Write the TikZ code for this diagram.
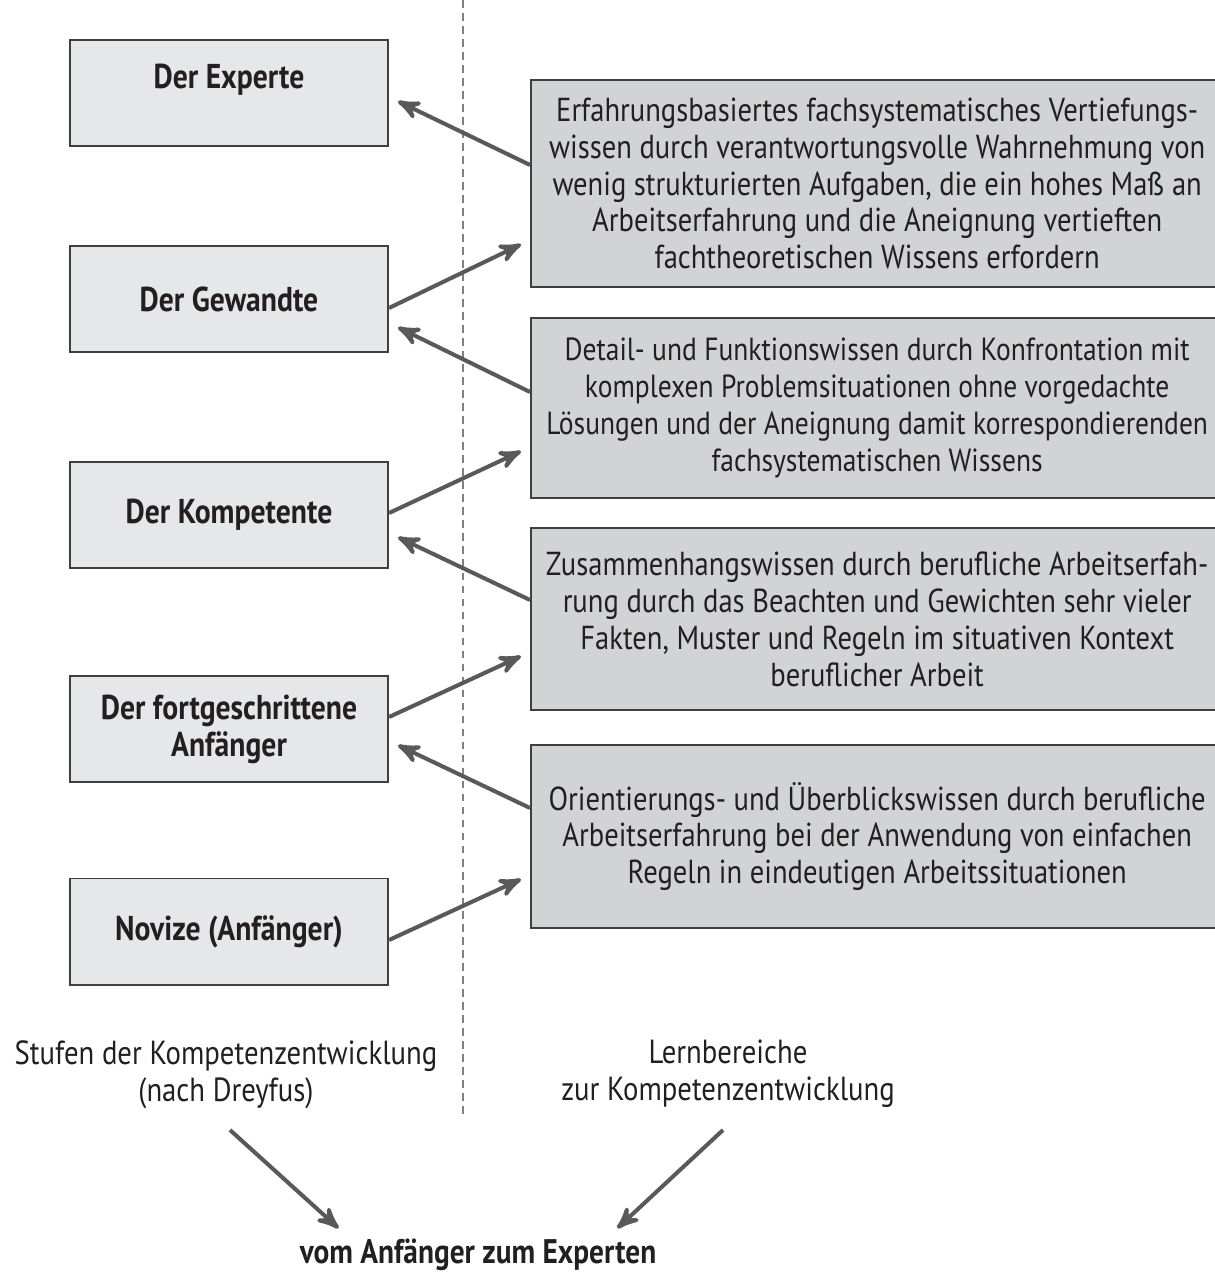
\documentclass[tikz,border=0pt]{standalone}
\usepackage{fontspec}
\setmainfont{PT Sans}[FakeStretch=0.86]
\usepackage{tikz}
\usetikzlibrary{arrows, positioning}
\definecolor{boxleft}{HTML}{E6E7E8}
\definecolor{boxright}{HTML}{D1D3D4}
\definecolor{rimgray}{HTML}{3F3F3F}
\definecolor{arrowgray}{HTML}{595959}
\definecolor{textdark}{HTML}{231F20}

\begin{document}
\begin{tikzpicture}[x=0.01cm, y=-0.01cm, >=stealth', font=\fontsize{9.45}{10.5}\selectfont,
                    text=textdark]
        \tikzstyle{stage}=[draw=rimgray, line width=0.55pt, fill=boxleft, minimum width=3.18cm,
                           minimum height=1.06cm, align=center, font=\fontsize{9.8}{10.5}\selectfont\bfseries]
        \tikzstyle{area}=[draw=rimgray, line width=0.55pt, fill=boxright, minimum width=6.92cm,
                          align=center, inner sep=0pt, anchor=west]
        \tikzstyle{arr}=[->, draw=arrowgray, line width=1.15pt, shorten >=0.1cm]

        \useasboundingbox (0,0) rectangle (1214,1277);

        % Stufen (links)
        \node[stage]         (exp)  at (229, 93)    {};
        \node[font=\fontsize{9.8}{10.5}\selectfont\bfseries] (explbl) at (229, 80) {Der Experte};
        \node[stage]         (gew)  at (229, 299)   {Der Gewandte};
        \node[stage]         (kom)  at (229, 515)   {Der Kompetente};
        \node[stage]         (fort) at (229, 729)   {Der fortgeschrittene\\Anfänger};
        \node[stage]         (nov)  at (229, 931.5) {Novize (Anfänger)};

        % Lernbereiche (rechts)
        \node[area, minimum height=2.07cm] (rb1) at (530, 183.5)
            {Erfahrungsbasiertes fachsystematisches Vertiefungs-\\
             wissen durch verantwortungsvolle Wahrnehmung von\\
             wenig strukturierten Aufgaben, die ein hohes Maß an\\
             Arbeitserfahrung und die Aneignung vertieften\\
             fachtheoretischen Wissens erfordern};
        \node[area, minimum height=1.80cm, font=\fontsize{9.1}{10.5}\selectfont] (rb2) at (530, 408)
            {Detail- und Funktionswissen durch Konfrontation mit\\
             komplexen Problemsituationen ohne vorgedachte\\
             Lösungen und der Aneignung damit korrespondierenden\\
             fachsystematischen Wissens};
        \node[area, minimum height=1.82cm] (rb3) at (530, 619)
            {Zusammenhangswissen durch berufliche Arbeitserfah-\\
             rung durch das Beachten und Gewichten sehr vieler\\
             Fakten, Muster und Regeln im situativen Kontext\\
             beruflicher Arbeit};
        \node[area, minimum height=1.83cm] (rb4) at (530, 836.5)
            {Orientierungs- und Überblickswissen durch berufliche\\
             Arbeitserfahrung bei der Anwendung von einfachen\\
             Regeln in eindeutigen Arbeitssituationen};

        \draw[gray, line width=0.4pt, dash pattern=on 2.2pt off 1.5pt] (463,0) -- (463,1118);

        \draw[arr] ([yshift=0.185cm]rb1.west)  -- ([yshift=-0.04cm]exp.east);
        \draw[arr] ([yshift=-0.09cm]gew.east)  -- ([yshift=-0.565cm]rb1.west);
        \draw[arr] ([yshift=0.16cm]rb2.west)   -- ([yshift=-0.24cm]gew.east);
        \draw[arr] ([yshift=0.02cm]kom.east)   -- ([yshift=-0.39cm]rb2.west);
        \draw[arr] ([yshift=0.19cm]rb3.west)   -- ([yshift=-0.18cm]kom.east);
        \draw[arr] ([yshift=0.12cm]fort.east)  -- ([yshift=-0.33cm]rb3.west);
        \draw[arr] ([yshift=0.285cm]rb4.west)  -- ([yshift=-0.12cm]fort.east);
        \draw[arr] ([yshift=-0.085cm]nov.east) -- ([yshift=-0.385cm]rb4.west);

        % Beschriftung unten
        \node[align=center, font=\fontsize{9.5}{10.6}\selectfont] (stufen) at (226, 1075)
            {Stufen der Kompetenzentwicklung\\(nach Dreyfus)};
        \node[align=center, font=\fontsize{9.5}{10.6}\selectfont] (lern) at (728, 1074)
            {Lernbereiche\\zur Kompetenzentwicklung};
        \node[font=\fontsize{9.7}{10.5}\selectfont\bfseries] (goal) at (478, 1255)
            {vom Anfänger zum Experten};

        \coordinate (sfrom) at (230, 1130);
        \coordinate (lfrom) at (723, 1130);
        \coordinate (sto)   at (346, 1235);
        \coordinate (lto)   at (610, 1235);
        \draw[arr] (sfrom) -- (sto);
        \draw[arr] (lfrom) -- (lto);
\end{tikzpicture}
\end{document}
